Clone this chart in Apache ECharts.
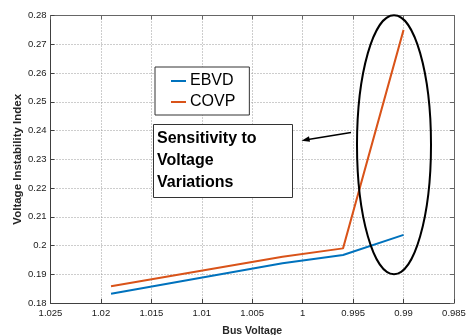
<!DOCTYPE html>
<html><head><meta charset="utf-8">
<script src="https://cdn.jsdelivr.net/npm/echarts@6/dist/echarts.min.js"></script>
<style>html,body{margin:0;padding:0;background:#fff}#c{width:466px;height:335px}</style>
</head><body><div id="c"></div>
<script>
var busVoltage = [1.019, 1.002, 0.996, 0.990];
var ebvd = [0.1832, 0.1938, 0.1967, 0.2037];
var covp = [0.1858, 0.1961, 0.1990, 0.2750];
var seriesNames = ['EBVD', 'COVP'];
var xName = 'Bus Voltage';
var yName = 'Voltage Instability Index';
var noteLines = ['Sensitivity to', 'Voltage', 'Variations'];

var FONT = 'Liberation Sans, Arial, sans-serif';
function pair(xs, ys){ return xs.map(function(x,i){return [x, ys[i]];}); }
function fmt3(v){ return String(parseFloat(v.toFixed(3))); }
function fmt2(v){ return String(parseFloat(v.toFixed(2))); }

var chart = echarts.init(document.getElementById('c'), null, {renderer:'canvas'});
var axisCol = '#404040';
var split = {show:true, lineStyle:{type:[1,2], color:'#9a9a9a', width:1}};
chart.setOption({
  animation:false,
  backgroundColor:'#fff',
  grid:{left:50.5, right:12, top:15.5, bottom:32, containLabel:false, outerBoundsMode:'none'},
  legend:{
    data:seriesNames, orient:'vertical', left:155, top:67,
    padding:[6,14,5,16], itemGap:5, itemWidth:15, itemHeight:2, icon:'rect',
    borderColor:'#333', borderWidth:1, backgroundColor:'#fff',
    textStyle:{fontFamily:FONT, fontSize:16, color:'#000', lineHeight:16, padding:[0,0,0,-1]}
  },
  xAxis:[{
    type:'value', inverse:true, min:0.985, max:1.025, interval:0.005,
    name:xName, nameLocation:'middle', nameGap:23,
    nameTextStyle:{fontFamily:FONT, fontSize:10.5, fontWeight:'bold', color:'#262626'},
    axisLine:{lineStyle:{color:axisCol}}, axisTick:{inside:true, length:4, lineStyle:{color:axisCol}},
    axisLabel:{fontFamily:FONT, fontSize:9.5, color:'#1a1a1a', margin:5, formatter:fmt3},
    splitLine:split
  },{
    type:'value', inverse:true, min:0.985, max:1.025, interval:0.005, position:'top',
    axisLine:{show:true, lineStyle:{color:'#666'}}, axisTick:{show:true, inside:true, length:4, lineStyle:{color:'#666'}},
    axisLabel:{show:false}, splitLine:{show:false}
  }],
  yAxis:[{
    type:'value', min:0.18, max:0.28, interval:0.01,
    name:yName, nameLocation:'middle', nameGap:27, nameMoveOverlap:false,
    nameTextStyle:{fontFamily:FONT, fontSize:11.5, fontWeight:'bold', color:'#262626'},
    axisLine:{show:true, lineStyle:{color:axisCol}}, axisTick:{show:true, inside:true, length:4, lineStyle:{color:axisCol}},
    axisLabel:{fontFamily:FONT, fontSize:9.5, color:'#1a1a1a', margin:4, formatter:fmt2},
    splitLine:split
  },{
    type:'value', min:0.18, max:0.28, interval:0.01, position:'right',
    axisLine:{show:true, lineStyle:{color:'#666'}}, axisTick:{show:true, inside:true, length:4, lineStyle:{color:'#666'}},
    axisLabel:{show:false}, splitLine:{show:false}
  }],
  series:[
    {name:seriesNames[0], type:'line', data:pair(busVoltage, ebvd), showSymbol:false, symbol:'none',
     lineStyle:{color:'#0072BD', width:2}, itemStyle:{color:'#0072BD'}},
    {name:seriesNames[1], type:'line', data:pair(busVoltage, covp), showSymbol:false, symbol:'none',
     lineStyle:{color:'#D95319', width:2}, itemStyle:{color:'#D95319'}}
  ],
  graphic:[
    {type:'rect', shape:{x:153.5, y:124.5, width:139, height:73}, style:{fill:'#fff', stroke:'#333', lineWidth:1}, z:10},
    {type:'text', x:157, y:128, style:{text:noteLines.join('\n'), font:'bold 16px ' + FONT, lineHeight:22, fill:'#000'}, z:11},
    {type:'line', shape:{x1:351, y1:132.5, x2:305, y2:140}, style:{stroke:'#000', lineWidth:1.5}, z:11},
    {type:'polygon', shape:{points:[[301.5,140.7],[309,136.3],[310,141.8]]}, style:{fill:'#000'}, z:11},
    {type:'ellipse', shape:{cx:394, cy:144.7, rx:37, ry:129.5}, style:{fill:'none', stroke:'#000', lineWidth:2}, z:11}
  ]
});
</script></body></html>
